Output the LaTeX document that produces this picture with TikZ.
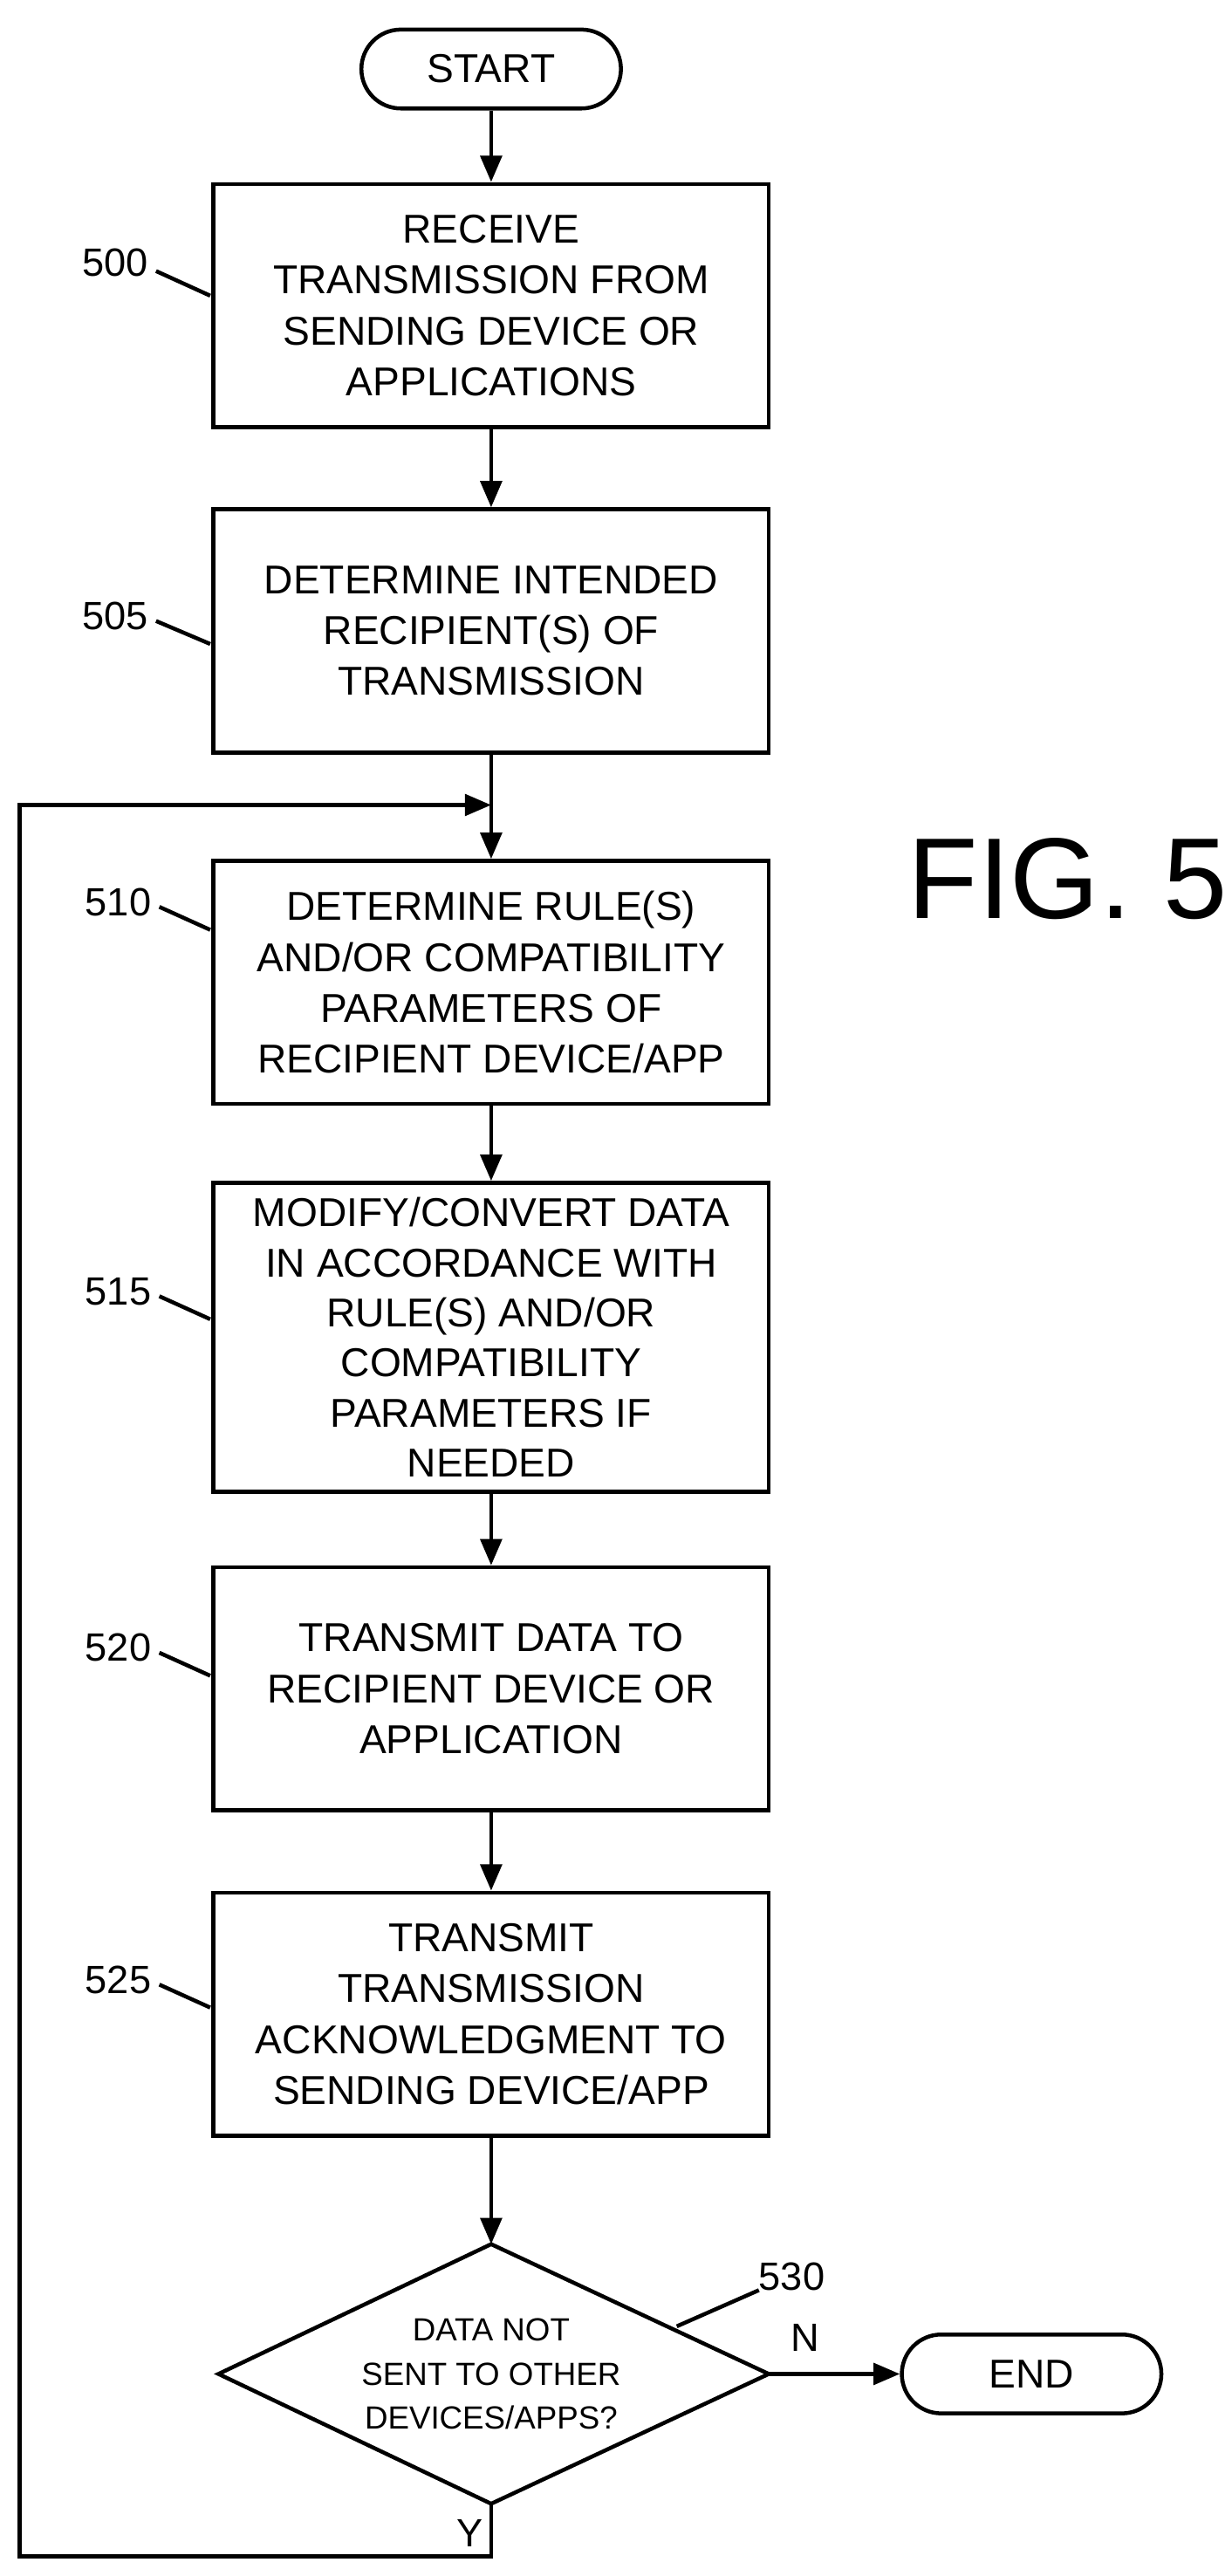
\documentclass[tikz,border=0pt]{standalone}
\usepackage{fontspec}
\setmainfont{Liberation Sans}
\usetikzlibrary{shapes.geometric,arrows.meta}
\begin{document}
\begin{tikzpicture}[x=1pt,y=-1pt,line width=2.4pt,
 box/.style={draw,minimum width=338pt,minimum height=148pt,align=center,font=\fontsize{24.5}{31}\selectfont,inner sep=2pt},
 term/.style={draw,rounded corners=24pt,minimum width=158pt,minimum height=48pt,font=\fontsize{24.5}{28}\selectfont},
 lab/.style={font=\fontsize{24}{28}\selectfont},
 arr/.style={-{Triangle[length=16pt,width=13pt]}}]
\useasboundingbox (0,0) rectangle (750,1568);
\node[term] (start) at (299,42) {START};
\node[box] (b500) at (299,186) {RECEIVE\\TRANSMISSION FROM\\SENDING DEVICE OR\\APPLICATIONS};
\node[box] (b505) at (299,384) {DETERMINE INTENDED\\RECIPIENT(S) OF\\TRANSMISSION};
\node[box] (b510) at (299,598) {DETERMINE RULE(S)\\AND/OR COMPATIBILITY\\PARAMETERS OF\\RECIPIENT DEVICE/APP};
\node[box,minimum height=188pt,font=\fontsize{24.5}{30.5}\selectfont] (b515) at (299,814) {MODIFY/CONVERT DATA\\IN ACCORDANCE WITH\\RULE(S) AND/OR\\COMPATIBILITY\\PARAMETERS IF\\NEEDED};
\node[box] (b520) at (299,1028) {TRANSMIT DATA TO\\RECIPIENT DEVICE OR\\APPLICATION};
\node[box] (b525) at (299,1226) {TRANSMIT\\TRANSMISSION\\ACKNOWLEDGMENT TO\\SENDING DEVICE/APP};
\draw (133,1445) -- (299,1366) -- (468,1445) -- (299,1524) -- cycle;
\node[align=center,font=\fontsize{19.5}{27}\selectfont] (d530) at (299,1445) {DATA NOT\\SENT TO OTHER\\DEVICES/APPS?};
\coordinate (dt) at (299,1366); \coordinate (db) at (299,1524); \coordinate (dr) at (468,1445);
\node[term] (end) at (628,1445) {END};
\draw[arr] (start) -- (b500);
\draw[arr] (b500) -- (b505);
\draw[arr] (b505) -- (b510);
\draw[arr] (b510) -- (b515);
\draw[arr] (b515) -- (b520);
\draw[arr] (b520) -- (b525);
\draw[arr] (b525) -- (dt);
\draw[arr] (dr) -- (end);
\coordinate (lp) at (299,490);
\draw[arr] (db) -- (299,1556) -- (12,1556) -- (12,490) -- (lp);
\node[lab] at (490,1423) {N};
\node[lab] at (286,1542) {Y};
\node[font=\fontsize{70}{72}\selectfont] (fig) at (650,535) {FIG. 5};
\node[lab] (l500) at (70,160) {500}; \draw (95,165) -- (128,180);
\node[lab] (l505) at (70,375) {505}; \draw (95,378) -- (128,392);
\node[lab] (l510) at (72,549) {510}; \draw (97,552) -- (128,566);
\node[lab] (l515) at (72,786) {515}; \draw (97,789) -- (128,803);
\node[lab] (l520) at (72,1003) {520}; \draw (97,1006) -- (128,1020);
\node[lab] (l525) at (72,1205) {525}; \draw (97,1208) -- (128,1222);
\node[lab] (l530) at (482,1386) {530}; \draw (462,1394) -- (412,1416);
\end{tikzpicture}
\end{document}
